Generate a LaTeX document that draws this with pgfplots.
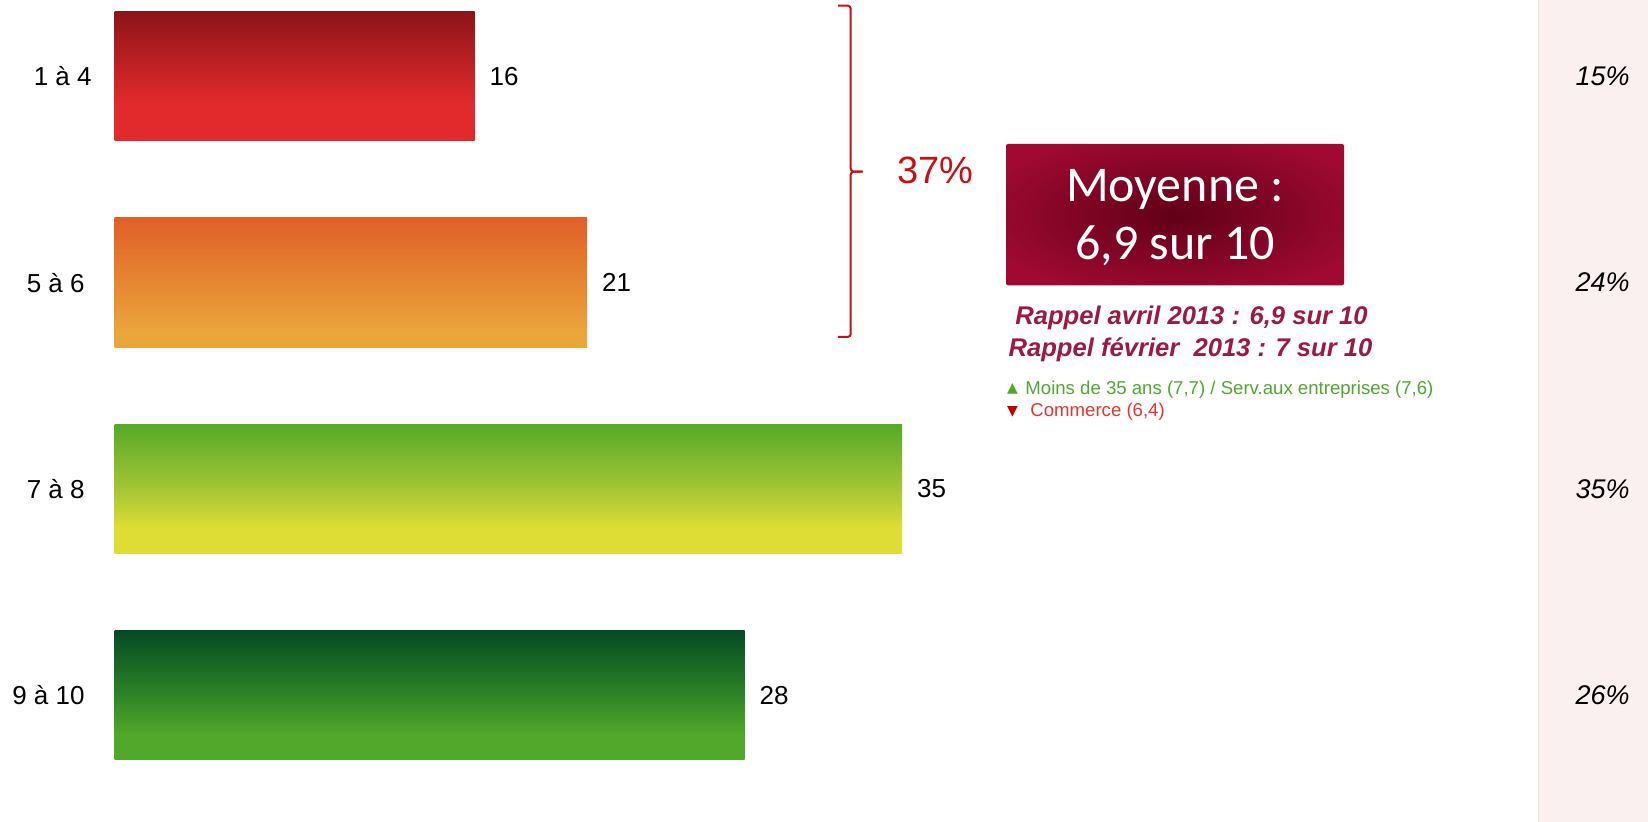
\documentclass[border=0pt]{standalone}
\usepackage{pgfplots}
\pgfplotsset{compat=1.18}
\usepackage{fontspec}
\setmainfont{Liberation Sans}
\newfontfamily\carlito{Carlito}
\newfontfamily\dejavu{DejaVu Sans}

\definecolor{r1t}{HTML}{8C1419}
\definecolor{r1b}{HTML}{E12A2C}
\definecolor{o2t}{HTML}{E05F28}
\definecolor{o2b}{HTML}{EBA63B}
\definecolor{g3t}{HTML}{55AA28}
\definecolor{g3m}{HTML}{A5C535}
\definecolor{g3b}{HTML}{DDDD35}
\definecolor{g4t}{HTML}{054A24}
\definecolor{g4m}{HTML}{2E8428}
\definecolor{g4b}{HTML}{52A82A}
\definecolor{bxin}{HTML}{620018}
\definecolor{bxout}{HTML}{A00A32}
\definecolor{panel}{HTML}{FBF0F0}
\definecolor{panelline}{HTML}{F0E2E6}
\definecolor{bracered}{HTML}{C81014}
\definecolor{rappel}{HTML}{9A1A40}
\definecolor{greentxt}{HTML}{4EA72E}
\definecolor{redtxt}{HTML}{E5342E}
\definecolor{redtri}{HTML}{C00000}

\pgfdeclareverticalshading{shA}{100bp}{color(0bp)=(r1b); color(40bp)=(r1b); color(75bp)=(r1t); color(100bp)=(r1t)}
\pgfdeclareverticalshading{shB}{100bp}{color(0bp)=(o2b); color(30bp)=(o2b); color(75bp)=(o2t); color(100bp)=(o2t)}
\pgfdeclareverticalshading{shC}{100bp}{color(0bp)=(g3b); color(35bp)=(g3b); color(50bp)=(g3m); color(75bp)=(g3t); color(100bp)=(g3t)}
\pgfdeclareverticalshading{shD}{100bp}{color(0bp)=(g4b); color(35bp)=(g4b); color(50bp)=(g4m); color(75bp)=(g4t); color(100bp)=(g4t)}
\pgfdeclareradialshading{boxsh}{\pgfpoint{0bp}{0bp}}{color(0bp)=(bxin); color(30bp)=(bxout); color(50bp)=(bxout)}

\begin{document}
\begin{tikzpicture}[x=1pt,y=1pt]
\fill[panel] (769,0) rectangle (824,411);
\draw[panelline, line width=0.5pt] (769,0) -- (769,411);
\begin{axis}[
  at={(0pt,0pt)}, anchor=south west, scale only axis,
  width=824pt, height=411pt,
  xmin=-5.093, xmax=68.151,
  ymin=-0.3699, ymax=3.6147, y dir=reverse,
  axis line style={draw=none}, major tick length=0pt,
  xtick=\empty, ytick={0,1,2,3},
  yticklabels={1 à 4\hspace*{-3.5pt}, 5 à 6, 7 à 8, 9 à 10},
  yticklabel style={anchor=east, inner sep=0pt, xshift=42.5pt, font=\fontsize{13}{15}\selectfont},
  clip=false,
  /pgf/number format/assume math mode=true,
  bar width=64.7pt, bar shift=0pt,
]
\addplot[xbar, draw=none, shade, shading=shA, nodes near coords,
  every node near coord/.append style={anchor=west, xshift=4pt, text=black, font=\fontsize{13}{15}\selectfont}]
  coordinates {(16,0)};
\addplot[xbar, draw=none, shade, shading=shB, nodes near coords,
  every node near coord/.append style={anchor=west, xshift=4pt, text=black, font=\fontsize{13}{15}\selectfont}]
  coordinates {(21,1)};
\addplot[xbar, draw=none, shade, shading=shC, nodes near coords,
  every node near coord/.append style={anchor=west, xshift=4pt, text=black, font=\fontsize{13}{15}\selectfont}]
  coordinates {(35,2)};
\addplot[xbar, draw=none, shade, shading=shD, nodes near coords,
  every node near coord/.append style={anchor=west, xshift=4pt, text=black, font=\fontsize{13}{15}\selectfont}]
  coordinates {(28,3)};
\addplot[draw=none, mark=none, point meta=explicit,
  nodes near coords={\pgfmathprintnumber{\pgfplotspointmeta}\%},
  every node near coord/.style={anchor=east, inner sep=0pt, text=black, font=\itshape\fontsize{13.5}{15}\selectfont}]
  coordinates {(67.35,0) [15] (67.35,1) [24] (67.35,2) [35] (67.35,3) [26]};
\end{axis}
% brace
\draw[bracered, line width=1pt, rounded corners=1.5pt]
  (419,408.15) -- (425.35,408.15) -- (425.35,325.15) -- (431.35,325.15);
\draw[bracered, line width=1pt, rounded corners=1.5pt]
  (431.35,325.15) -- (425.35,325.15) -- (425.35,242.5) -- (419,242.5);
\node[anchor=base west, text=bracered, inner sep=0pt, font=\fontsize{19}{22}\selectfont] at (448.5,319) {37\%};
% box
\shade[shading=boxsh, rounded corners=1pt] (503,268.35) rectangle (672,339);
\node[anchor=base, text=white, inner sep=0pt, font=\carlito\fontsize{25}{30}\selectfont] at (587.5,310.15) {Moyenne :};
\node[anchor=base, text=white, inner sep=0pt, font=\carlito\fontsize{25}{30}\selectfont] at (587.5,281) {6,9 sur 10};
% rappel
\node[anchor=base, text=rappel, inner sep=0pt, font=\bfseries\itshape\fontsize{12.8}{15}\selectfont] at (595.75,248.5) {Rappel avril 2013 : 6,9 sur 10};
\node[anchor=base, text=rappel, inner sep=0pt, font=\bfseries\itshape\fontsize{12.8}{15}\selectfont] at (595.25,232.65) {Rappel février~ 2013 : 7 sur 10};
% small lines
\node[anchor=base west, text=greentxt, inner sep=0pt, font=\dejavu\fontsize{7}{8}\selectfont] at (503.35,214.5) {▲};
\node[anchor=base west, text=greentxt, inner sep=0pt, font=\fontsize{9.3}{11}\selectfont] at (512.5,213.5) {Moins de 35 ans (7,7) / Serv.aux entreprises (7,6)};
\node[anchor=base west, text=redtri, inner sep=0pt, font=\dejavu\fontsize{7}{8}\selectfont] at (503.35,203.3) {▼};
\node[anchor=base west, text=redtxt, inner sep=0pt, font=\fontsize{9.3}{11}\selectfont] at (515,202.5) {Commerce (6,4)};
\pgfresetboundingbox
\path[use as bounding box] (0,0) rectangle (824,411);
\end{tikzpicture}
\end{document}
